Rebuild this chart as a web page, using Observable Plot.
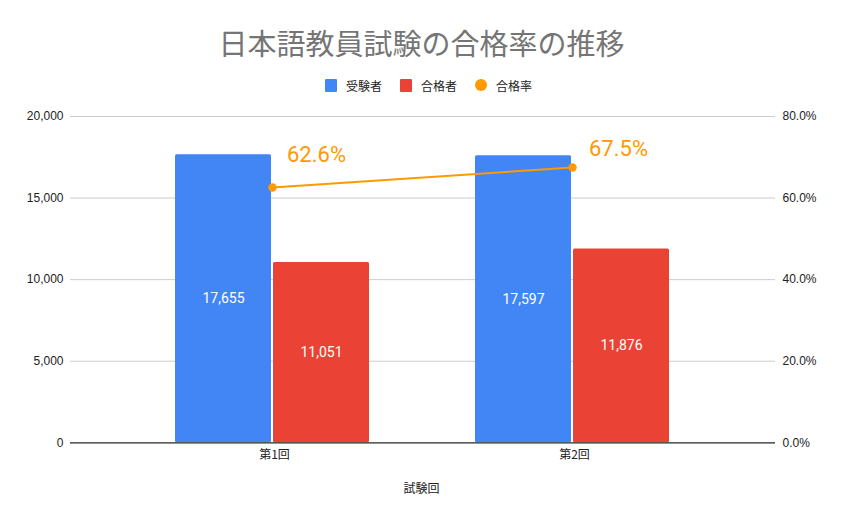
<!DOCTYPE html>
<html>
<head>
<meta charset="utf-8">
<script src="https://cdn.jsdelivr.net/npm/d3@7"></script>
<script src="https://cdn.jsdelivr.net/npm/@observablehq/plot@0.6"></script>
<style>
  html, body { margin: 0; padding: 0; background: #fff; }
  #wrap { position: relative; width: 843px; height: 521px; overflow: hidden; font-family: "Liberation Sans", Arial, "Noto Sans CJK JP", sans-serif; }
  #title { position: absolute; left: 0; width: 843px; top: 27px; line-height: 36px; text-align: center; font-size: 29px; color: #757575; font-family: Roboto, "Noto Sans CJK JP", sans-serif; }
  #legend { position: absolute; left: 325px; top: 75px; height: 20px; display: flex; align-items: center; font-size: 12px; color: #222; font-family: Roboto, "Noto Sans CJK JP", sans-serif; }
  .item { display: flex; align-items: center; margin-right: 18px; }
  .sw { width: 12px; height: 13px; margin-right: 9px; border-radius: 1px; }
  .ci { width: 12px; height: 12px; margin-right: 9px; border-radius: 50%; }
  #chart { position: absolute; left: 0; top: 100px; }
  #xlabel { position: absolute; left: 0; width: 843px; top: 479px; line-height: 18px; text-align: center; font-size: 12px; color: #222; font-family: "Noto Sans CJK JP", sans-serif; }
</style>
</head>
<body>
<div id="wrap">
  <div id="title"></div>
  <div id="legend"></div>
  <div id="chart"></div>
  <div id="xlabel"></div>
</div>
<script>
// ---- data ----
const rounds = ["第1回", "第2回"];
const examinees = [17655, 17597];
const passers = [11051, 11876];
const passRates = [62.6, 67.5];
const leftTicks = [0, 5000, 10000, 15000, 20000];
const rightTicks = [0, 20, 40, 60, 80];
const seriesNames = ["受験者", "合格者", "合格率"];
const seriesColors = ["#4285F4", "#EA4335", "#FF9900"];
const titleText = "日本語教員試験の合格率の推移";
const xTitle = "試験回";

// ---- build ----
const rows = rounds.map((r, i) => ({round: r, examinees: examinees[i], passers: passers[i], rate: passRates[i]}));
const leftMax = 20000, rightMax = 80;
const toLeft = v => v * leftMax / rightMax;

document.getElementById("title").textContent = titleText;
document.getElementById("xlabel").textContent = xTitle;
const legend = document.getElementById("legend");
seriesNames.forEach((n, i) => {
  const it = document.createElement("div");
  it.className = "item";
  const s = document.createElement("div");
  s.className = i === 2 ? "ci" : "sw";
  s.style.background = seriesColors[i];
  const t = document.createElement("span");
  t.textContent = n;
  it.appendChild(s); it.appendChild(t);
  legend.appendChild(it);
});

const fmt = d3.format(",");
const chart = Plot.plot({
  width: 843,
  height: 421,
  marginTop: 16,
  marginBottom: 78.7,
  marginLeft: 70,
  marginRight: 68,
  style: {fontFamily: "'Liberation Sans', Arial, 'Noto Sans CJK JP', sans-serif", fontSize: "12px", color: "#222", background: "transparent"},
  x: {type: "band", domain: rounds, paddingInner: 0.353, paddingOuter: 0.3515, label: null},
  y: {domain: [0, leftMax], label: null},
  marks: [
    Plot.gridY(leftTicks, {stroke: "#cccccc", strokeOpacity: 1}),
    Plot.barY(rows, {x: "round", y: "examinees", fill: seriesColors[0], insetRight: 98, rx: 1.5}),
    Plot.barY(rows, {x: "round", y: "passers", fill: seriesColors[1], insetLeft: 98, rx: 1.5}),
    Plot.ruleY([0], {stroke: "#333", strokeWidth: 1.2}),
    Plot.axisY({ticks: leftTicks, tickFormat: fmt, tickSize: 0, tickPadding: 7, label: null, fontSize: 12}),
    Plot.axisY({anchor: "right", ticks: leftTicks, tickFormat: (d, i) => rightTicks[i].toFixed(1) + "%", tickSize: 0, tickPadding: 7, label: null, fontSize: 12}),
    Plot.axisX({tickSize: 0, tickPadding: 8, label: null, fontSize: 12, fontFamily: "'Noto Sans CJK JP', sans-serif", dx: 2}),
    Plot.text(rows, {x: "round", y: d => d.examinees / 2, text: d => fmt(d.examinees), dx: -49, fill: "#fff", fontSize: 14, fontFamily: "Roboto, sans-serif"}),
    Plot.text(rows, {x: "round", y: d => d.passers / 2, text: d => fmt(d.passers), dx: 49, fill: "#fff", fontSize: 14, fontFamily: "Roboto, sans-serif"}),
    Plot.line(rows, {x: "round", y: d => toLeft(d.rate), stroke: seriesColors[2], strokeWidth: 2}),
    Plot.dot(rows, {x: "round", y: d => toLeft(d.rate), r: 4.2, fill: seriesColors[2]}),
    Plot.text(rows.slice(0, 1), {x: "round", y: d => toLeft(d.rate), text: d => d.rate.toFixed(1) + "%", dx: 44, dy: -33, fill: seriesColors[2], fontSize: 22, fontFamily: "Roboto, sans-serif"}),
    Plot.text(rows.slice(1), {x: "round", y: d => toLeft(d.rate), text: d => d.rate.toFixed(1) + "%", dx: 46, dy: -19, fill: seriesColors[2], fontSize: 22, fontFamily: "Roboto, sans-serif"})
  ]
});
document.getElementById("chart").appendChild(chart);
</script>
</body>
</html>
